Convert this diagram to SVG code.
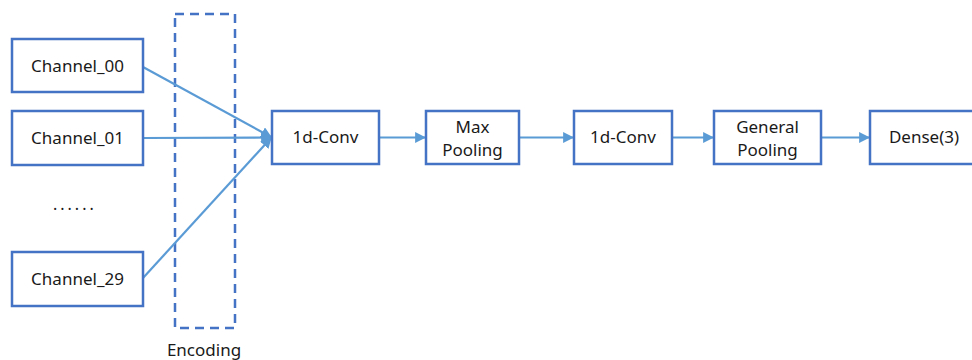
<svg xmlns="http://www.w3.org/2000/svg" width="972" height="360" viewBox="0 0 972 360">
  <style>
    .box { fill: #ffffff; stroke: #4472C4; stroke-width: 2.5; }
    .enc { fill: none; stroke: #4472C4; stroke-width: 2.5; stroke-dasharray: 9 6; }
    .lbl { font-family: "Noto Sans", "Noto Sans CJK SC", sans-serif; font-size: 17px; fill: #1a1a1a; text-anchor: middle; }
    .dots { font-family: "Noto Sans", sans-serif; font-size: 16px; fill: #1a1a1a; letter-spacing: 3px; }
    .edge { fill: none; stroke: #5B9BD5; stroke-width: 2.2; marker-end: url(#arr); }
  </style>
  <defs>
    <marker id="arr" viewBox="0 0 10 10" refX="9" refY="5" markerWidth="5" markerHeight="5" orient="auto" markerUnits="strokeWidth">
      <path d="M0,0 L10,5 L0,10 z" fill="#5B9BD5"/>
    </marker>
  </defs>

  <rect width="972" height="360" fill="#ffffff"/>

  <!-- encoding region -->
  <g id="encoding">
    <rect class="enc" x="175" y="14" width="60" height="314"/>
    <text class="lbl" x="204" y="356">Encoding</text>
  </g>

  <g id="connectors">
    <line class="edge" x1="143" y1="67" x2="271" y2="137"/>
    <line class="edge" x1="143" y1="138" x2="271" y2="137.5"/>
    <line class="edge" x1="143" y1="278" x2="271" y2="138"/>
    <line class="edge" x1="379" y1="137.5" x2="425" y2="137.5"/>
    <line class="edge" x1="519" y1="137.5" x2="573" y2="137.5"/>
    <line class="edge" x1="672" y1="137.5" x2="713" y2="137.5"/>
    <line class="edge" x1="821" y1="137.5" x2="869" y2="137.5"/>
  </g>

  <g id="channel_00">
    <rect class="box" x="12" y="39" width="131" height="53"/>
    <text class="lbl" x="77.5" y="72">Channel_00</text>
  </g>
  <g id="channel_01">
    <rect class="box" x="12" y="111" width="131" height="54"/>
    <text class="lbl" x="77.5" y="144">Channel_01</text>
  </g>
  <g id="ellipsis">
    <text class="dots" x="53" y="210">......</text>
  </g>
  <g id="channel_29">
    <rect class="box" x="12" y="252" width="131" height="54"/>
    <text class="lbl" x="77.5" y="285">Channel_29</text>
  </g>

  <g id="conv1">
    <rect class="box" x="272" y="111" width="107" height="53"/>
    <text class="lbl" x="325.5" y="143">1d-Conv</text>
  </g>
  <g id="maxpool">
    <rect class="box" x="426" y="111" width="93" height="53"/>
    <text class="lbl" x="472.5" y="133">Max</text>
    <text class="lbl" x="472.5" y="156">Pooling</text>
  </g>
  <g id="conv2">
    <rect class="box" x="574" y="111" width="98" height="53"/>
    <text class="lbl" x="623" y="143">1d-Conv</text>
  </g>
  <g id="genpool">
    <rect class="box" x="714" y="111" width="107" height="53"/>
    <text class="lbl" x="767.5" y="133">General</text>
    <text class="lbl" x="767.5" y="156">Pooling</text>
  </g>
  <g id="dense">
    <rect class="box" x="870" y="111" width="110" height="53"/>
    <text class="lbl" x="924" y="143">Dense(3)</text>
  </g>
</svg>
